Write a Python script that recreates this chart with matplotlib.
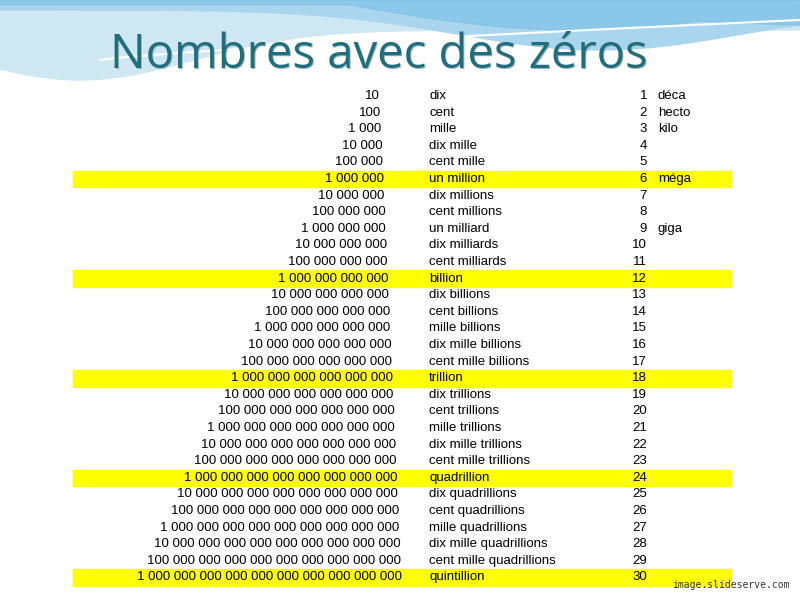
import numpy as np
import matplotlib.pyplot as plt
from matplotlib.patches import Rectangle

exponents = list(range(1, 31))
names = ["dix", "cent", "mille", "dix mille", "cent mille", "un million",
         "dix millions", "cent millions", "un milliard", "dix milliards",
         "cent milliards", "billion", "dix billions", "cent billions",
         "mille billions", "dix mille billions", "cent mille billions",
         "trillion", "dix trillions", "cent trillions", "mille trillions",
         "dix mille trillions", "cent mille trillions", "quadrillion",
         "dix quadrillions", "cent quadrillions", "mille quadrillions",
         "dix mille quadrillions", "cent mille quadrillions", "quintillion"]
prefixes = {1: "déca", 2: "hecto", 3: "kilo", 6: "méga", 9: "giga"}
highlighted = [6, 12, 18, 24, 30]


def fmt(n):
    s = "1" + "0" * n
    groups = []
    while len(s) > 3:
        groups.insert(0, s[-3:])
        s = s[:-3]
    groups.insert(0, s)
    return " ".join(groups)


fig = plt.figure(figsize=(8, 6), dpi=100)
ax = fig.add_axes([0, 0, 1, 1])
ax.set_xlim(0, 800)
ax.set_ylim(600, 0)
ax.axis('off')

# --- decorative waves at top ---
x = np.linspace(0, 800, 400)
ax.fill_between(x, 0, 30 + 50 * np.exp(-((x - 80) / 160) ** 2), color='#cfe6f3', zorder=0)
ax.fill_between(x, 0, 10 + 40 * np.exp(-((x - 600) / 200) ** 2), color='#a9d6ee', zorder=0)
ax.fill_between(x, 0, 5 + 25 * np.sin(np.clip((x - 350) / 450, 0, 1) * np.pi) + 20 * (x > 700) * (x - 700) / 100,
                color='#7fc2e6', alpha=0.7, zorder=0)
ax.plot(x, 60 - 40 * ((x - 100) / 700) ** 0.8 * (x > 100), color='white', lw=1.5, zorder=1)

ax.text(111, 56, "Nombres avec des zéros", fontsize=34, color='#9fb8bd',
        family='Open Sans', va='center', ha='left', zorder=2)
ax.text(110, 55, "Nombres avec des zéros", fontsize=34, color='#1f6e7e',
        family='Open Sans', va='center', ha='left', zorder=2)

# --- table ---
y0, dy = 96, 16.6
font = dict(family='Liberation Sans', fontsize=9.5, va='center')
for i, e in enumerate(exponents):
    y = y0 + i * dy
    if e in highlighted:
        ax.add_patch(Rectangle((73, y - dy / 2), 658, dy, color='#ffff00', zorder=1))
    ax.text(380 + 22 * i / 29, y, fmt(e), ha='right', zorder=2, **font)
    ax.text(429, y, names[i], ha='left', zorder=2, **font)
    ax.text(647, y, str(e), ha='right', zorder=2, **font)
    if e in prefixes:
        ax.text(658, y, prefixes[e], ha='left', zorder=2, **font)

ax.text(790, 585, "image.slideserve.com", ha='right', va='center', fontsize=7,
        family='DejaVu Sans Mono', color='#333333')

fig.savefig('out.png', dpi=100)
